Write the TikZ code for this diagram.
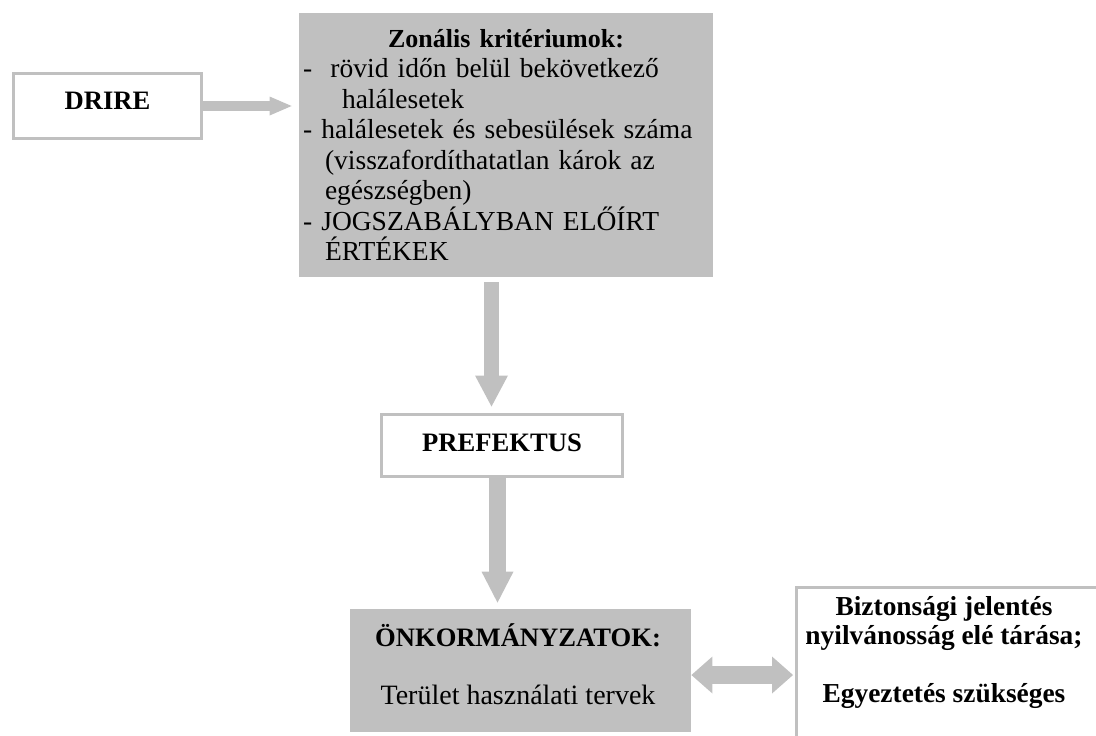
\documentclass[tikz,border=0pt]{standalone}
\usepackage{fontspec}
\setmainfont{Liberation Serif}
\usetikzlibrary{arrows.meta,calc}
\definecolor{boxgrey}{HTML}{C0C0C0}
\newcommand\boxfont{\fontsize{13.3}{15}\selectfont}
\newcommand\critfont{\fontsize{13.75}{15.25}\selectfont}
\newcommand\largefont{\fontsize{14}{14.5}\selectfont}
\newcommand\safetyfont{\fontsize{13.7}{14.5}\selectfont}
\tikzset{
  framebox/.style={draw=boxgrey, line width=1.5pt, fill=white, inner sep=0pt, font=\boxfont\bfseries},
  fillbox/.style={fill=boxgrey, inner sep=2pt, font=\critfont},
  fatarrow/.style n args={3}{draw=boxgrey, line width=#1, -{Triangle[width=#2, length=#3, line width=0pt]}},
  fatdouble/.style n args={3}{draw=boxgrey, line width=#1, {Triangle[width=#2, length=#3, line width=0pt]}-{Triangle[width=#2, length=#3, line width=0pt]}}
}

\begin{document}
\begin{tikzpicture}[x=0.5pt, y=-0.5pt]
  \useasboundingbox (0,0) rectangle (1096,735);
  % boxes
  \node[framebox, minimum width=94pt, minimum height=32.5pt, text height=9pt, text depth=6pt] (drire) at (107.5,106) {DRIRE};
  \node[fillbox, text width=203pt, minimum height=132pt, align=left] (crit) at (506,145) {%
    \makebox[203pt]{\fontsize{13}{15}\selectfont\textbf{Zonális kritériumok:}}\\
    -\ \ rövid időn belül bekövetkező\\
    \hspace*{19.5pt}halálesetek\\
    - halálesetek és sebesülések száma\\
    \hspace*{11pt}(visszafordíthatatlan károk az\\
    \hspace*{11pt}egészségben)\\
    - JOGSZABÁLYBAN ELŐÍRT\\
    \hspace*{11pt}ÉRTÉKEK};
  \node[framebox, minimum width=120.5pt, minimum height=31pt, text height=10pt, text depth=4.5pt] (pref) at (502,445.5) {PREFEKTUS};
  \node[fillbox, minimum width=170.5pt, minimum height=61.5pt] (onk) at (520.5,670.5) {};
  \node[font=\largefont, align=center] (onktxt) at (518,664) {\textbf{\boxfont ÖNKORMÁNYZATOK:}\\[14.5pt]Terület használati tervek};
  \node[framebox, anchor=north west, minimum width=160pt, minimum height=88pt] (safety) at (794.5,585.5) {};
  \node[font=\safetyfont\bfseries, align=center] (safetytxt) at (944,652) {Biztonsági jelentés\\nyilvánosság elé tárása;\\[14.5pt]Egyeztetés szükséges};
  % arrows
  \coordinate (a1) at ([xshift=-7.25pt]crit.south);
  \coordinate (a2) at ([xshift=-2.25pt]pref.south);
  \draw[fatarrow={5pt}{9.5pt}{11pt}, shorten >=3.5pt] (drire.east) -- (drire.east -| crit.west);
  \draw[fatarrow={7.5pt}{16.5pt}{15.5pt}, shorten <=2.5pt, shorten >=3.25pt] (a1) -- (a1 |- pref.north);
  \draw[fatarrow={8.5pt}{16pt}{15.5pt}, shorten >=3pt] (a2) -- (a2 |- onk.north);
  \draw[fatdouble={9pt}{18.5pt}{10.5pt}, shorten >=0.75pt] (onk.east |- safety.west) -- (safety.west);
\end{tikzpicture}
\end{document}
